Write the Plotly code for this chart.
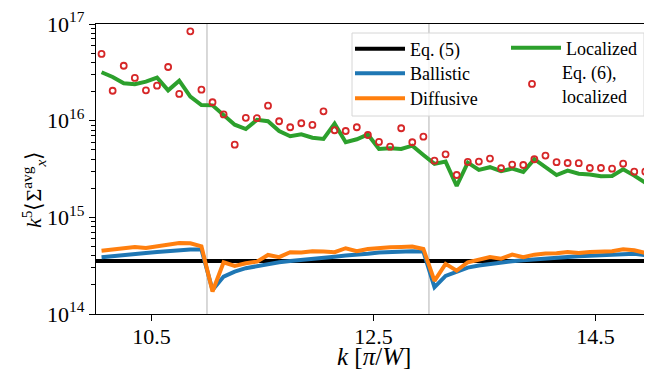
import plotly.graph_objects as go

k = [10.05, 10.15, 10.25, 10.35, 10.45, 10.55, 10.65, 10.75, 10.85, 10.95,
     11.05, 11.15, 11.25, 11.35, 11.45, 11.55, 11.65, 11.75, 11.85, 11.95,
     12.05, 12.15, 12.25, 12.35, 12.45, 12.55, 12.65, 12.75, 12.85, 12.95,
     13.05, 13.15, 13.25, 13.35, 13.45, 13.55, 13.65, 13.75, 13.85, 13.95,
     14.05, 14.15, 14.25, 14.35, 14.45, 14.55, 14.65, 14.75, 14.85, 14.95]

eq5_value = 3.54e14

ballistic = [3.87e14, 3.99e14, 4.08e14, 4.19e14, 4.28e14, 4.39e14, 4.50e14, 4.57e14, 4.64e14, 4.64e14,
             1.77e14, 2.44e14, 2.74e14, 2.98e14, 3.14e14, 3.30e14, 3.43e14, 3.54e14, 3.65e14, 3.74e14,
             3.83e14, 3.92e14, 4.02e14, 4.08e14, 4.19e14, 4.33e14, 4.39e14, 4.42e14, 4.46e14, 4.42e14,
             1.89e14, 2.48e14, 2.74e14, 3.02e14, 3.17e14, 3.30e14, 3.40e14, 3.51e14, 3.60e14, 3.69e14,
             3.78e14, 3.83e14, 3.89e14, 3.96e14, 4.02e14, 4.08e14, 4.11e14, 4.19e14, 4.19e14, 4.05e14]

diffusive = [4.50e14, 4.64e14, 4.79e14, 4.94e14, 4.83e14, 5.02e14, 5.14e14, 5.43e14, 5.39e14, 5.02e14,
             1.71e14, 3.43e14, 3.14e14, 3.35e14, 3.48e14, 4.08e14, 3.87e14, 4.36e14, 4.33e14, 4.46e14,
             4.42e14, 4.36e14, 4.79e14, 4.46e14, 4.71e14, 4.83e14, 4.91e14, 4.94e14, 4.98e14, 4.71e14,
             2.20e14, 3.30e14, 2.81e14, 3.43e14, 3.69e14, 3.89e14, 3.74e14, 4.11e14, 3.87e14, 4.11e14,
             4.22e14, 4.25e14, 4.39e14, 4.28e14, 4.39e14, 4.46e14, 4.46e14, 4.68e14, 4.57e14, 4.28e14]

localized = [3.17e16, 2.83e16, 2.44e16, 2.38e16, 2.53e16, 2.79e16, 2.06e16, 2.59e16, 1.77e16, 1.45e16,
             1.44e16, 1.14e16, 9.09e15, 8.20e15, 1.02e16, 9.86e15, 7.82e15, 6.90e15, 7.23e15, 6.67e15,
             6.47e15, 9.31e15, 5.98e15, 6.42e15, 7.20e15, 5.10e15, 5.19e15, 5.10e15, 5.51e15, 4.42e15,
             3.57e15, 3.77e15, 2.11e15, 3.68e15, 3.09e15, 3.30e15, 3.00e15, 3.19e15, 2.95e15, 3.99e15,
             3.27e15, 2.74e15, 3.04e15, 2.83e15, 2.77e15, 2.66e15, 2.68e15, 3.14e15, 2.70e15, 2.28e15]

eq6_localized = [4.90e16, 2.04e16, 3.70e16, 2.77e16, 2.06e16, 2.30e16, 3.59e16, 1.89e16, 8.40e16, 2.09e16,
                 1.55e16, 1.16e16, 5.65e15, 1.07e16, 1.06e16, 1.43e16, 9.86e15, 8.55e15, 9.40e15, 9.03e15,
                 1.25e16, 7.96e15, 7.82e15, 8.55e15, 7.11e15, 6.02e15, 5.38e15, 8.35e15, 5.98e15, 6.83e15,
                 3.86e15, 4.49e15, 2.74e15, 3.74e15, 3.77e15, 4.05e15, 3.22e15, 3.51e15, 3.48e15, 3.99e15,
                 4.35e15, 3.72e15, 3.65e15, 3.63e15, 3.24e15, 3.24e15, 3.19e15, 3.59e15, 2.97e15, 2.97e15]

band_edges = [11.0, 13.0]
x_range = [10.0, 15.01]
x_ticks = [10.5, 12.5, 14.5]
x_ticktext = ["10.5", "12.5", "14.5"]
y_ticks = [1e14, 1e15, 1e16, 1e17]
y_ticktext = ["10<sup>14</sup>", "10<sup>15</sup>", "10<sup>16</sup>", "10<sup>17</sup>"]

FONT = "Liberation Serif"
W, H = 652, 375
OFF = 8  # page body margin offset
# plot area in window pixels: x 96..652, y 24..314
ML = 96 - OFF
MT = 24 - OFF
MR = OFF
MB = H - (314 - OFF)
PW, PH = W - ML - MR, H - MT - MB

def px(X):
    return (X - OFF - ML) / PW

def py(Y):
    return (H - MB - (Y - OFF)) / PH

fig = go.Figure()

fig.add_trace(go.Scatter(x=x_range, y=[eq5_value, eq5_value], mode="lines", showlegend=True,
                         line=dict(color="black", width=4), name="Eq. (5)", legend="legend"))
fig.add_trace(go.Scatter(x=k, y=ballistic, mode="lines", showlegend=True,
                         line=dict(color="#1f77b4", width=4), name="Ballistic", legend="legend2"))
fig.add_trace(go.Scatter(x=k, y=diffusive, mode="lines", showlegend=True,
                         line=dict(color="#ff7f0e", width=4), name="Diffusive", legend="legend3"))
fig.add_trace(go.Scatter(x=k, y=localized, mode="lines", showlegend=True,
                         line=dict(color="#2ca02c", width=4), name="Localized", legend="legend4"))
fig.add_trace(go.Scatter(x=k, y=eq6_localized, mode="markers", showlegend=True,
                         marker=dict(symbol="circle-open", size=6, color="#d62728",
                                     line=dict(width=1.8, color="#d62728")),
                         name="Eq. (6),<br>localized", legend="legend5"))

shapes = []
for xe in band_edges:
    shapes.append(dict(type="line", xref="x", yref="paper", x0=xe, x1=xe, y0=0, y1=1,
                       line=dict(color="#cccccc", width=1.5), layer="below"))
shapes.append(dict(type="rect", xref="paper", yref="paper",
                   x0=px(352), x1=px(644), y0=py(116), y1=py(33),
                   line=dict(color="#d6d6d6", width=1), fillcolor="rgba(255,255,255,0.8)",
                   layer="above"))

annotations = [
    dict(text="<i>k</i> [<i>π</i>/<i>W</i>]", xref="paper", yref="paper",
         x=px(374), y=py(356), xanchor="center", yanchor="middle", showarrow=False,
         font=dict(family=FONT, size=25, color="black")),
    dict(text="<i>k</i><sup>5</sup>⟨Σ<sup>avg</sup><sub><i>x</i></sub>⟩", xref="paper", yref="paper",
         x=px(33), y=py(190), xanchor="center", yanchor="middle", showarrow=False, textangle=-90,
         font=dict(family=FONT, size=22, color="black")),
]

def leg(xw, yw):
    return dict(x=px(xw), y=py(yw), xanchor="left", yanchor="middle", visible=True,
                bgcolor="rgba(0,0,0,0)", borderwidth=0, itemwidth=50,
                font=dict(family=FONT, size=18, color="black"), tracegroupgap=0)

fig.update_layout(
    width=W, height=H,
    showlegend=True,
    margin=dict(l=ML, r=MR, t=MT, b=MB, autoexpand=False),
    paper_bgcolor="white", plot_bgcolor="white",
    font=dict(family=FONT, size=18, color="black"),
    shapes=shapes,
    annotations=annotations,
    legend=leg(350, 49),
    legend2=leg(350, 73.5),
    legend3=leg(350, 98.5),
    legend4=leg(506, 48),
    legend5=leg(502, 84),
    xaxis=dict(range=x_range, tickvals=x_ticks, ticktext=x_ticktext, automargin=False,
               showgrid=False, zeroline=False, showline=True, linecolor="black", linewidth=1.2,
               mirror=True, ticks="outside", ticklen=6, tickwidth=1.2, tickcolor="black",
               ticklabelstandoff=-4,
               tickfont=dict(family=FONT, size=22)),
    yaxis=dict(type="log", range=[14, 17], tickvals=y_ticks, ticktext=y_ticktext, automargin=False,
               showgrid=False, zeroline=False, showline=True, linecolor="black", linewidth=1.2,
               ticks="outside", ticklen=6, tickwidth=1.2, tickcolor="black",
               minor=dict(ticks="outside", ticklen=3.5, tickwidth=1, tickcolor="black", dtick="D1", showgrid=False),
               tickfont=dict(family=FONT, size=22)),
)

fig.write_html("out.html")
